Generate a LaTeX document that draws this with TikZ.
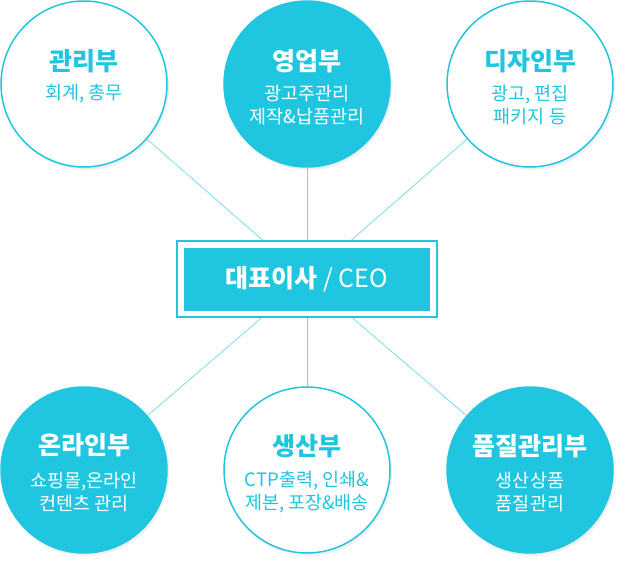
\documentclass[tikz,border=0pt]{standalone}
\usepackage{fontspec}
\setmainfont{Noto Sans CJK KR}
\usetikzlibrary{shadows}
\definecolor{orgcyan}{HTML}{20C6DF}
\definecolor{orgline}{HTML}{6FD6E8}

\begin{document}
\begin{tikzpicture}[x=1pt, y=-1pt,
    dept/.style={circle, minimum size=166pt, inner sep=0pt, line width=1.5pt, draw=orgcyan,
        drop shadow={shadow xshift=2pt, shadow yshift=-3pt, opacity=0.12}},
    deptw/.style={dept, fill=white},
    deptc/.style={dept, fill=orgcyan},
    head/.style={font=\bfseries\fontsize{25}{28}\selectfont},
    sub/.style={font=\fontsize{18.5}{23}\selectfont, align=center},
    link/.style={draw=orgline, line width=0.7pt}]
    \useasboundingbox (0,0) rectangle (625,565);

    % The departments (top row)
    \node[deptw] (admin) at (84,84) {};
    \node[deptc] (sales) at (307,84) {};
    \node[deptw] (design) at (530,84) {};

    % The departments (bottom row)
    \node[deptc] (online) at (84,470) {};
    \node[deptw] (prod) at (307,470) {};
    \node[deptc] (quality) at (530,470) {};

    % The CEO box
    \node[draw=orgcyan, fill=white, line width=1.4pt, minimum width=260pt, minimum height=76pt,
        drop shadow={shadow xshift=2pt, shadow yshift=-3pt, opacity=0.06}] (ceo) at (307,279) {};
    \node[fill=orgcyan, minimum width=246pt, minimum height=63pt, text=white,
        font=\fontsize{25}{28}\selectfont] (ceoin) at (ceo) {{\bfseries 대표이사} / CEO};

    % Links to the CEO
    \foreach \d in {admin, sales, design, online, prod, quality}
        \draw[link] (\d) -- (ceo);

    % Labels
    \node[head, text=orgcyan] (adminh) at ([yshift=23pt]admin.center) {관리부};
    \node[sub, text=orgcyan] (admins) at ([yshift=-10pt]admin.center) {회계, 총무};
    \node[head, text=white] (salesh) at ([yshift=23pt]sales.center) {영업부};
    \node[sub, text=white] (saless) at ([yshift=-21.5pt]sales.center) {광고주관리\\제작\&납품관리};
    \node[head, text=orgcyan] (designh) at ([yshift=23pt]design.center) {디자인부};
    \node[sub, text=orgcyan] (designs) at ([yshift=-21.5pt]design.center) {광고, 편집\\패키지 등};
    \node[head, text=white] (onlineh) at ([yshift=25pt]online.center) {온라인부};
    \node[sub, text=white] (onlines) at ([yshift=-22pt]online.center) {쇼핑몰,온라인\\컨텐츠 관리};
    \node[head, text=orgcyan] (prodh) at ([yshift=24pt]prod.center) {생산부};
    \node[sub, text=orgcyan] (prods) at ([yshift=-22pt]prod.center) {CTP출력, 인쇄\&\\제본, 포장\&배송};
    \node[head, text=white] (qualityh) at ([yshift=24pt]quality.center) {품질관리부};
    \node[sub, text=white] (qualitys) at ([yshift=-22pt]quality.center) {생산상품\\품질관리};
\end{tikzpicture}
\end{document}
